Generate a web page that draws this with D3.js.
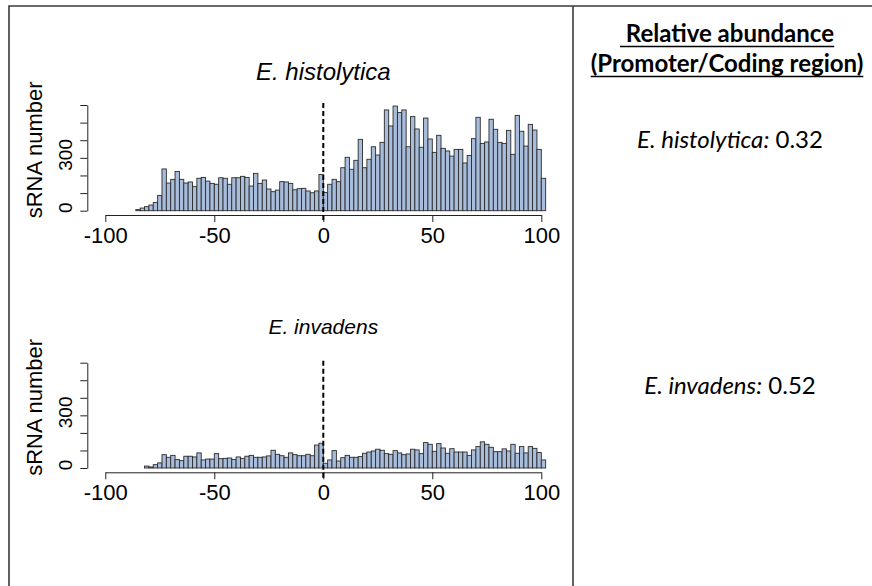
<!DOCTYPE html>
<html>
<head>
<meta charset="utf-8">
<script src="https://cdn.jsdelivr.net/npm/d3@7"></script>
<style>
  body { margin: 0; background: #fff; }
  svg { display: block; }
</style>
</head>
<body>
<div class="figure"></div>
<script>
// page size
const WIDTH = 872;
const HEIGHT = 586;

// sRNA counts in 2-nt bins, the first bin starts at the given position
const histolyticaStart = -86;
const histolyticaCounts = [
  6, 15, 23, 32, 47, 87, 237, 157, 178, 223, 178, 157, 163, 138, 184, 189, 168, 155, 150, 187,
  184, 150, 187, 187, 195, 189, 140, 212, 155, 174, 123, 108, 117, 165, 163, 155, 119, 125, 127, 112,
  102, 112, 206,
  104, 150, 178, 165, 244, 303, 235, 286, 405, 244, 292, 363, 316, 388, 572, 481, 594, 557, 572, 363,
  534, 464, 360, 526, 407, 331, 428, 354, 339, 310, 348, 348, 271, 314, 409, 530, 382, 390, 519, 462,
  388, 382, 456, 320, 541, 451, 367, 490, 458, 348, 184
];
const invadensStart = -82;
const invadensCounts = [
  11, 6, 19, 29, 76, 61, 72, 48, 42, 67, 67, 63, 86, 46, 51, 51, 82, 53, 55, 57,
  48, 63, 55, 67, 72, 61, 61, 63, 69, 101, 78, 70, 61, 86, 76, 70, 70, 78, 70, 131,
  141,
  27, 46, 99, 40, 59, 72, 61, 61, 65, 84, 91, 97, 107, 101, 82, 78, 99, 86, 76, 80,
  107, 103, 82, 145, 135, 95, 139, 114, 84, 110, 91, 91, 91, 72, 103, 122, 149, 135, 118, 93,
  93, 109, 97, 135, 84, 122, 86, 122, 112, 88, 46
];
const BINWIDTH = 2;

// axis ticks
const xTicks = [-100, -50, 0, 50, 100];
const yTicks = [0, 100, 200, 300, 400, 500, 600];
const yLabelTicks = [0, 300];

// text of the right hand column
const speciesNames = ["E. histolytica", "E. invadens"];
const ratioValues = ["0.32", "0.52"];
const headerLines = [" Relative abundance", "(Promoter/Coding region)"];

const RFONT = "'Liberation Sans', Arial, Helvetica, sans-serif";
const SLIDEFONT = "Lato, 'Open Sans', sans-serif";

const svg = d3
  .select(".figure")
  .append("svg")
  .attr("width", WIDTH)
  .attr("height", HEIGHT);

// table frame
svg.append("path")
  .attr("d", "M9,600 V6 H872 M573,6 V600")
  .attr("fill", "none")
  .attr("stroke", "#3a3a3a")
  .attr("stroke-width", 1.6);

const x = d3.scaleLinear().domain([-100, 100]).range([105.3, 541.3]);

// one panel per species (the two plots were pasted in at slightly different title sizes)
const panels = [
  { name: speciesNames[0], start: histolyticaStart, counts: histolyticaCounts, base: 210.7, top: 105, titleY: 80, titleSize: 24 },
  { name: speciesNames[1], start: invadensStart, counts: invadensCounts, base: 468, top: 362.7, titleY: 334, titleSize: 21 }
];

panels.forEach(p => {
  const y = d3.scaleLinear().domain([0, 600]).range([p.base, p.top]);
  const g = svg.append("g");
  const axisY = p.base + 4.3;

  // bars
  g.selectAll("rect")
    .data(p.counts)
    .join("rect")
    .attr("x", (d, i) => x(p.start + i * BINWIDTH))
    .attr("width", x(BINWIDTH) - x(0))
    .attr("y", d => y(d))
    .attr("height", d => p.base - y(d))
    .attr("fill", "#a8bddb")
    .attr("stroke", "#2b2b2b")
    .attr("stroke-width", 0.9);

  // x axis, plain hyphen for negatives as in R
  const xa = g.append("g")
    .attr("transform", `translate(0,${axisY})`)
    .call(d3.axisBottom(x).tickValues(xTicks).tickSize(7).tickSizeOuter(0).tickPadding(5)
      .tickFormat(d => String(d)));
  xa.selectAll("path, line").attr("stroke", "#222").attr("stroke-width", 1);
  xa.selectAll("text")
    .attr("font-family", RFONT)
    .attr("font-size", 22)
    .attr("fill", "#000");

  // y axis, labels written sideways like R does
  const ya = g.append("g")
    .attr("transform", "translate(87.3,0)")
    .call(d3.axisLeft(y).tickValues(yTicks).tickSize(7).tickSizeOuter(0).tickFormat(""));
  ya.selectAll("path, line").attr("stroke", "#222").attr("stroke-width", 1);

  g.selectAll(".ylab")
    .data(yLabelTicks)
    .join("text")
    .attr("class", "ylab")
    .attr("transform", d => `translate(72,${y(d) - 3}) rotate(-90)`)
    .attr("text-anchor", "middle")
    .attr("font-family", RFONT)
    .attr("font-size", 19)
    .text(d => d);

  g.append("text")
    .attr("transform", `translate(42,${(p.base + p.top) / 2 - 8}) rotate(-90)`)
    .attr("text-anchor", "middle")
    .attr("font-family", RFONT)
    .attr("font-size", 22)
    .text("sRNA number");

  // TSS marker
  g.append("line")
    .attr("x1", x(0)).attr("x2", x(0))
    .attr("y1", p.top - 2).attr("y2", axisY + 7)
    .attr("stroke", "#000")
    .attr("stroke-width", 2)
    .attr("stroke-dasharray", "5,3");

  g.append("text")
    .attr("x", x(0))
    .attr("y", p.titleY)
    .attr("text-anchor", "middle")
    .attr("font-family", RFONT)
    .attr("font-style", "italic")
    .attr("font-size", p.titleSize)
    .text(p.name);
});

// right column header, underlined
const headerY = [42, 72];
headerLines.forEach((line, i) => {
  const t = svg.append("text")
    .attr("x", 727)
    .attr("y", headerY[i])
    .attr("text-anchor", "middle")
    .attr("font-family", SLIDEFONT)
    .attr("font-weight", "bold")
    .attr("font-size", 24)
    .attr("xml:space", "preserve")
    .style("white-space", "pre")
    .text(line);
  const bb = t.node().getBBox();
  svg.append("line")
    .attr("x1", bb.x).attr("x2", bb.x + bb.width)
    .attr("y1", headerY[i] + 4.5).attr("y2", headerY[i] + 4.5)
    .attr("stroke", "#000")
    .attr("stroke-width", 1.5);
});

// ratio lines
const ratioY = [148, 394];
speciesNames.forEach((name, i) => {
  const t = svg.append("text")
    .attr("x", 730)
    .attr("y", ratioY[i])
    .attr("text-anchor", "middle")
    .attr("font-family", SLIDEFONT)
    .attr("font-size", 24);
  t.append("tspan").attr("font-style", "italic").text(name + ":");
  t.append("tspan").text(" " + ratioValues[i]);
});
</script>
</body>
</html>
